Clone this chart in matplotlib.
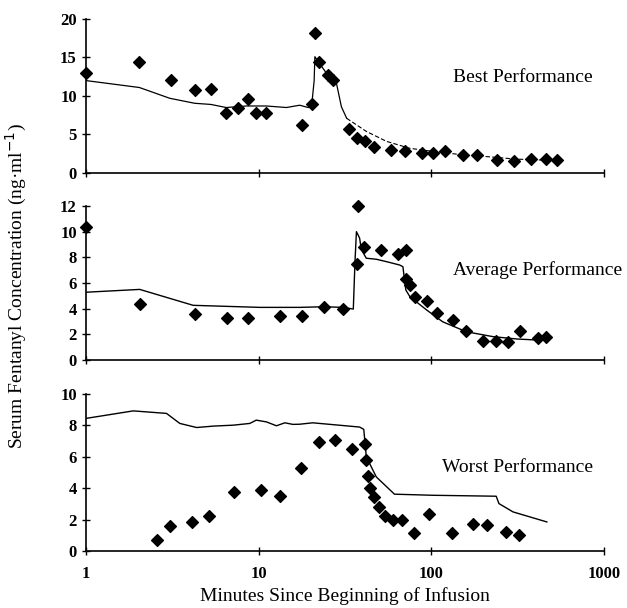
import matplotlib
matplotlib.use('Agg')
import matplotlib.pyplot as plt
import numpy as np

plt.rcParams['font.family'] = ['Liberation Serif', 'DejaVu Serif']

# best performance: measured points and model line
best_t = [1.0, 2.04, 3.12, 4.26, 5.3, 6.47, 7.56, 8.64, 9.73, 11.0, 17.9, 20.3, 21.2,
          22.4, 25.2, 27.0, 33.5, 37.2, 41.6, 46.5, 58.3, 71.0, 88.6, 102.6, 120.4,
          153.8, 184.5, 240.9, 303.6, 380.7, 461, 533]
best_c = [13.0, 14.4, 12.1, 10.8, 10.9, 7.8, 8.5, 9.6, 7.75, 7.75, 6.2, 9.0, 18.2,
          14.4, 12.7, 12.1, 5.7, 4.6, 4.2, 3.4, 3.0, 2.8, 2.55, 2.6, 2.85,
          2.3, 2.3, 1.7, 1.6, 1.8, 1.8, 1.7]
best_line_t = [1.0, 2.04, 3.06, 4.27, 5.3, 6.5, 8.5, 11.1, 14.5, 17.3, 19.4, 20.3, 21.0,
               21.2, 22.6, 25.2, 28.0, 30.2, 32.4]
best_line_c = [12.0, 11.1, 9.7, 9.05, 8.9, 8.5, 8.7, 8.7, 8.5, 8.8, 8.5, 8.7, 12.0,
               15.1, 14.2, 12.7, 12.1, 8.6, 7.1]
best_tail_t = [32.4, 42.1, 55.2, 75.3, 102.6, 160, 218, 311, 549]
best_tail_c = [7.1, 5.4, 4.1, 3.2, 2.8, 2.3, 2.1, 1.8, 1.6]

# average performance
avg_t = [1.0, 2.05, 4.27, 6.53, 8.7, 13.4, 17.9, 23.9, 30.9, 37.2, 37.8, 40.7, 51.1,
         64.3, 71.3, 71.9, 75.3, 81.0, 94.1, 108, 134, 160, 199, 238, 280, 328, 413, 465]
avg_c = [10.4, 4.4, 3.6, 3.3, 3.27, 3.4, 3.4, 4.15, 3.97, 7.5, 12.0, 8.8, 8.6,
         8.26, 8.6, 6.35, 5.85, 4.9, 4.6, 3.7, 3.1, 2.26, 1.5, 1.48, 1.43, 2.26, 1.69, 1.82]
avg_line_t = [1.0, 2.05, 4.18, 10.2, 17.3, 23.9, 30.9, 35.4, 36.2, 36.9, 38.5, 39.4,
              42.1, 48.1, 55.2, 65.7, 68.6, 71.3, 75.3, 94.1, 116.5, 160, 228, 311, 404]
avg_line_c = [5.28, 5.5, 4.26, 4.1, 4.1, 4.15, 4.1, 3.97, 7.66, 10.0, 9.5, 8.6,
              7.93, 7.85, 7.66, 7.4, 7.27, 5.46, 4.93, 3.9, 2.98, 2.2, 1.82, 1.64, 1.56]

# worst performance
worst_t = [2.59, 3.06, 4.09, 5.16, 7.23, 10.4, 13.4, 17.6, 22.4, 27.7, 34.9, 41.6,
           42.1, 43.2, 44.3, 46.5, 49.6, 53.9, 60.1, 67.9, 79.1, 96.8, 132.7, 174.9,
           211, 271, 324]
worst_c = [0.73, 1.58, 1.85, 2.2, 3.75, 3.9, 3.5, 5.3, 6.92, 7.1, 6.5, 6.8,
           5.8, 4.77, 4.0, 3.45, 2.8, 2.2, 1.96, 1.96, 1.15, 2.38, 1.15, 1.7,
           1.64, 1.21, 1.0]
worst_line_t = [1.0, 1.88, 2.93, 3.5, 4.38, 5.46, 7.14, 8.9, 9.7, 11.1, 12.7, 14.2,
                15.8, 17.3, 20.6, 38.5, 40.7, 42.1, 48.1, 61.3, 102.6, 238, 247, 298, 468]
worst_line_c = [8.45, 8.93, 8.77, 8.13, 7.87, 7.96, 8.02, 8.13, 8.34, 8.23, 7.98, 8.17,
                8.07, 8.08, 8.17, 7.9, 7.75, 6.0, 4.72, 3.62, 3.55, 3.49, 3.02, 2.49, 1.85]

panel_names = ['Best Performance', 'Average Performance', 'Worst Performance']
y_limits = [20, 12, 10]
y_ticks = [[0, 5, 10, 15, 20], [0, 2, 4, 6, 8, 10, 12], [0, 2, 4, 6, 8, 10]]
x_ticks = [1, 10, 100, 1000]

fig = plt.figure(figsize=(6.27, 6.08), dpi=100)
boxes = [[0.137, 0.7155, 0.826, 0.2533],
         [0.137, 0.4079, 0.826, 0.2533],
         [0.137, 0.0938, 0.826, 0.258]]
axes = [fig.add_axes(b) for b in boxes]

axes[0].scatter(best_t, best_c, marker='D', s=36, color='black', zorder=3, clip_on=False)
axes[0].plot(best_line_t, best_line_c, color='black', lw=0.9)
axes[0].plot(best_tail_t, best_tail_c, color='black', lw=0.8, dashes=(4, 2))

axes[1].scatter(avg_t, avg_c, marker='D', s=36, color='black', zorder=3, clip_on=False)
axes[1].plot(avg_line_t, avg_line_c, color='black', lw=1.0)

axes[2].scatter(worst_t, worst_c, marker='D', s=36, color='black', zorder=3, clip_on=False)
axes[2].plot(worst_line_t, worst_line_c, color='black', lw=1.0)

label_pos = [(523, 77), (538, 270), (518, 467)]
for i, ax in enumerate(axes):
    ax.set_xscale('log')
    ax.set_xlim(1, 1000)
    ax.set_ylim(0, y_limits[i])
    ax.set_yticks(y_ticks[i])
    ax.set_xticks(x_ticks)
    ax.minorticks_off()
    ax.spines['top'].set_visible(False)
    ax.spines['right'].set_visible(False)
    ax.spines['left'].set_linewidth(1.2)
    ax.spines['bottom'].set_linewidth(1.2)
    ax.tick_params(direction='inout', length=6, width=1.0, labelsize=12)
    for lab in ax.get_yticklabels():
        lab.set_fontweight('bold')
    if i < 2:
        ax.set_xticklabels([])
    else:
        ax.set_xticklabels(['1', '10', '100', '1000'], fontweight='bold')
        ax.tick_params(axis='x', pad=8)
    fx, fy = label_pos[i]
    fig.text(fx / 627, 1 - fy / 608, panel_names[i], ha='center', va='center', fontsize=14)

fig.text(0.027, 0.53, 'Serum Fentanyl Concentration (ng\u00b7ml$^{-1}$)',
         rotation=90, ha='center', va='center', fontsize=14)
fig.text(0.55, 1 - 596 / 608, 'Minutes Since Beginning of Infusion',
         ha='center', va='center', fontsize=14)

fig.savefig('out.png', dpi=100)
